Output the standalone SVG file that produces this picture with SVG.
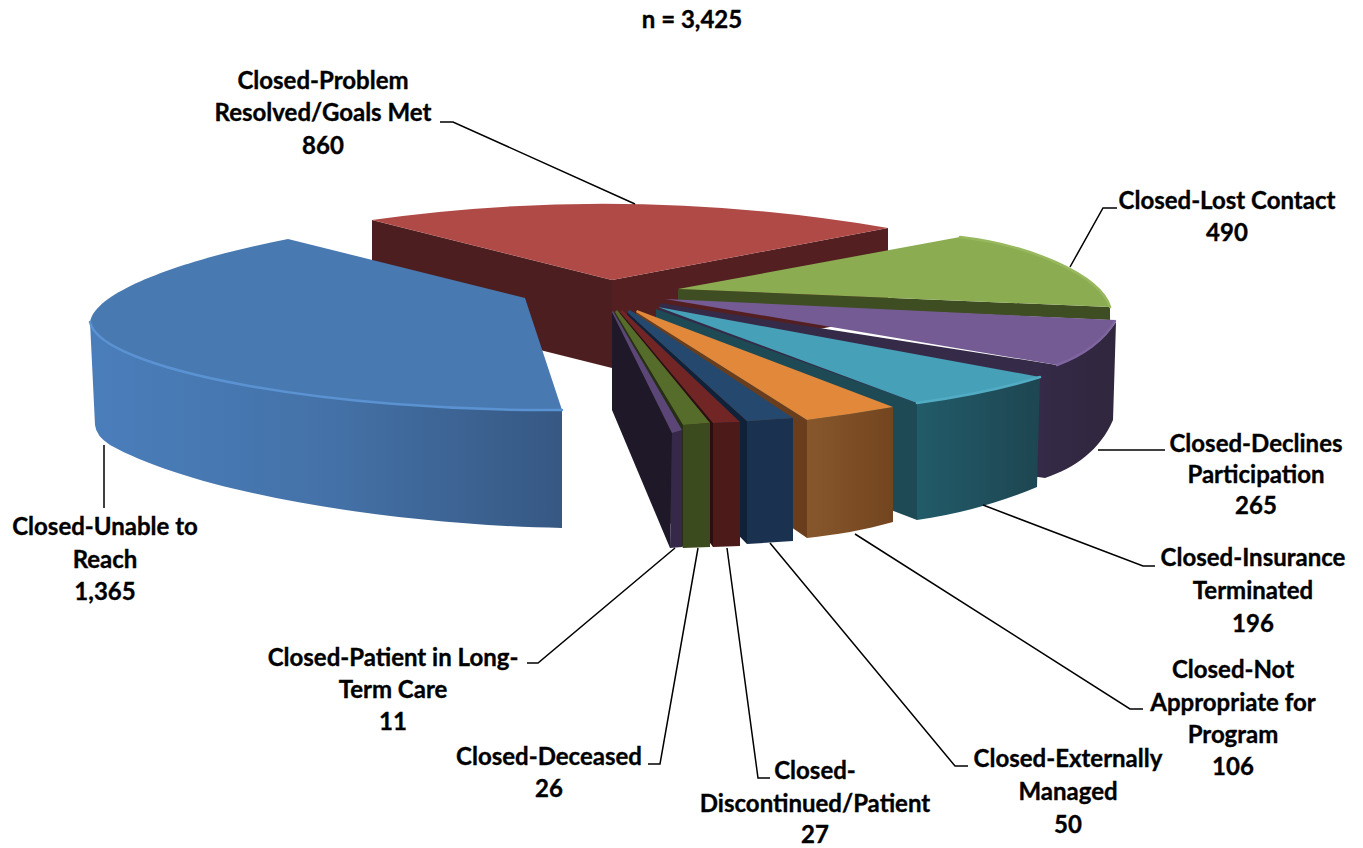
<svg xmlns="http://www.w3.org/2000/svg" width="1363" height="848" viewBox="0 0 1363 848">
  <defs>
    <style>
      .lbl { font-family: Lato, "Open Sans", "DejaVu Sans", sans-serif; font-weight: 700; font-size: 24px; fill: #000; stroke: #000; stroke-width: 0.35; text-anchor: middle; }
      .lead { fill: none; stroke: #000; stroke-width: 1.5; }
      .rim { fill: none; stroke-width: 2.5; stroke-linecap: round; }
    </style>
    <linearGradient id="gBlueSide" x1="90" y1="0" x2="562" y2="0" gradientUnits="userSpaceOnUse">
      <stop offset="0" stop-color="#4a7ebb"/>
      <stop offset="0.5" stop-color="#4472a8"/>
      <stop offset="1" stop-color="#365883"/>
    </linearGradient>
    <linearGradient id="gOrangeSide" x1="807" y1="0" x2="893" y2="0" gradientUnits="userSpaceOnUse">
      <stop offset="0" stop-color="#87572c"/>
      <stop offset="1" stop-color="#73451f"/>
    </linearGradient>
    <linearGradient id="gTealSide" x1="917" y1="0" x2="1040" y2="0" gradientUnits="userSpaceOnUse">
      <stop offset="0" stop-color="#225b69"/>
      <stop offset="1" stop-color="#1d4651"/>
    </linearGradient>
    <linearGradient id="gPurpleSide" x1="1040" y1="0" x2="1116" y2="0" gradientUnits="userSpaceOnUse">
      <stop offset="0" stop-color="#352a47"/>
      <stop offset="1" stop-color="#30263d"/>
    </linearGradient>
  </defs>

  <rect width="1363" height="848" fill="#ffffff"/>

  <text class="lbl" x="692" y="28">n = 3,425</text>

  <!-- Closed-Problem Resolved/Goals Met (back slice) -->
  <g id="slice-resolved">
    <polygon points="372,220 612,280 612,368 372,308" fill="#4d1e1f"/>
    <polygon points="612,280 888,228 888,316 612,368" fill="#531f21"/>
    <path d="M372,220 Q628,184 888,228 L612,280 Z" fill="#b04a47"/>
  </g>

  <!-- Closed-Lost Contact -->
  <g id="slice-lost-contact">
    <polygon points="678,289 1110,307 1110,320 678,301" fill="#3f4d22"/>
    <path d="M678,289 L960,237 C1030,245 1100,275 1110,307 Z" fill="#8cac52"/>
    <path class="rim" d="M960,237 C1030,245 1100,275 1110,307" stroke="#98b85e"/>
  </g>

  <!-- Closed-Declines Participation -->
  <g id="slice-declines">
    <path d="M660,303 L1057,365 C1080,355 1105,340 1116,322 L1113,420 C1100,450 1075,468 1045,478 L660,420 Z" fill="url(#gPurpleSide)"/>
    <path d="M665,299 L1115,320 C1105,340 1082,356 1057,365 Z" fill="#745b94"/>
    <path class="rim" d="M1115,321 C1105,340 1082,356 1057,365" stroke="#7f66a0"/>
  </g>

  <!-- Closed-Insurance Terminated -->
  <g id="slice-insurance">
    <polygon points="656,309 917,403 917,520 656,420" fill="#1e4a55"/>
    <path d="M917,403 C960,397 1005,388 1040,377 L1037,487 C1000,503 955,515 917,520 Z" fill="url(#gTealSide)"/>
    <path d="M658,307 L1040,377 C1005,388 960,397 917,403 Z" fill="#45a0b8"/>
    <path class="rim" d="M1040,377 C1005,388 960,397 917,403" stroke="#52adc4"/>
  </g>

  <!-- Closed-Not Appropriate for Program -->
  <g id="slice-not-appropriate">
    <polygon points="636,312 807,420 807,538 636,420" fill="#6a3e1c"/>
    <path d="M807,420 C835,416 865,412 893,407 L893,522 C865,530 835,535 807,538 Z" fill="url(#gOrangeSide)"/>
    <path d="M637,310 L893,407 C865,412 835,416 807,420 L636,312 Z" fill="#e1883b"/>
  </g>

  <!-- Closed-Externally Managed -->
  <g id="slice-externally">
    <polygon points="627,312 747,421 747,544 627,420" fill="#10213a"/>
    <polygon points="747,421 793,418 793,541 747,544" fill="#1b3150"/>
    <polygon points="630,310 793,418 747,421 627,312" fill="#25486f"/>
  </g>

  <!-- Closed-Discontinued/Patient -->
  <g id="slice-discontinued">
    <polygon points="620,312 713,423 713,547 620,420" fill="#2d0e0f"/>
    <polygon points="713,423 740,422 740,546 713,547" fill="#4d1a1a"/>
    <polygon points="622,310 740,422 713,423 620,312" fill="#712525"/>
  </g>

  <!-- Closed-Deceased -->
  <g id="slice-deceased">
    <polygon points="615,312 683,425 683,548 615,416" fill="#252f15"/>
    <polygon points="683,425 710,423 710,547 683,548" fill="#3c4b1e"/>
    <polygon points="617,310 710,423 683,425 615,312" fill="#566c2a"/>
  </g>

  <!-- Closed-Patient in Long-Term Care -->
  <g id="slice-long-term-care">
    <polygon points="612,312 672,433 670,548 612,410" fill="#1f1829"/>
    <polygon points="672,433 682,430 682,547 670,548" fill="#352849"/>
    <polygon points="613,311 682,430 672,433 612,312" fill="#5c4678"/>
  </g>

  <!-- Closed-Unable to Reach -->
  <g id="slice-unable">
    <path d="M90,322 C100,370 330,412 562,410 L562,528 C400,525 200,495 110,445 Q96,436 95,425 Z" fill="url(#gBlueSide)"/>
    <path d="M525,298 L288,239 C190,258 95,290 90,322 C100,370 330,412 562,410 Z" fill="#4879b1"/>
    <path class="rim" d="M90,322 C100,370 330,412 562,410" stroke="#5a92d2"/>
  </g>

  <!-- leader lines -->
  <g id="connectors">
    <polyline class="lead" points="440,122 453,122 635,204"/>
    <polyline class="lead" points="1117,208 1103,208 1070,267"/>
    <polyline class="lead" points="1098,450 1165,450"/>
    <polyline class="lead" points="983,505 1143,566 1155,566"/>
    <polyline class="lead" points="855,534 1130,709 1143,709"/>
    <polyline class="lead" points="770,543 955,766 968,766"/>
    <polyline class="lead" points="727,548 758,778 770,778"/>
    <polyline class="lead" points="698,548 660,764 648,764"/>
    <polyline class="lead" points="675,548 538,663 527,663"/>
    <polyline class="lead" points="104,445 104,508"/>
  </g>

  <!-- labels -->
  <g id="label-resolved">
    <text class="lbl" x="323" y="89">Closed-Problem</text>
    <text class="lbl" x="323" y="121">Resolved/Goals Met</text>
    <text class="lbl" x="323" y="154">860</text>
  </g>
  <g id="label-lost-contact">
    <text class="lbl" x="1227" y="209">Closed-Lost Contact</text>
    <text class="lbl" x="1227" y="241">490</text>
  </g>
  <g id="label-declines">
    <text class="lbl" x="1256" y="452">Closed-Declines</text>
    <text class="lbl" x="1256" y="483">Participation</text>
    <text class="lbl" x="1256" y="514">265</text>
  </g>
  <g id="label-insurance">
    <text class="lbl" x="1253" y="566">Closed-Insurance</text>
    <text class="lbl" x="1253" y="599">Terminated</text>
    <text class="lbl" x="1253" y="632">196</text>
  </g>
  <g id="label-not-appropriate">
    <text class="lbl" x="1233" y="678">Closed-Not</text>
    <text class="lbl" x="1233" y="711">Appropriate for</text>
    <text class="lbl" x="1233" y="743">Program</text>
    <text class="lbl" x="1233" y="775">106</text>
  </g>
  <g id="label-externally">
    <text class="lbl" x="1068" y="767">Closed-Externally</text>
    <text class="lbl" x="1068" y="800">Managed</text>
    <text class="lbl" x="1068" y="833">50</text>
  </g>
  <g id="label-discontinued">
    <text class="lbl" x="815" y="779">Closed-</text>
    <text class="lbl" x="815" y="812">Discontinued/Patient</text>
    <text class="lbl" x="815" y="843">27</text>
  </g>
  <g id="label-deceased">
    <text class="lbl" x="549" y="765">Closed-Deceased</text>
    <text class="lbl" x="549" y="797">26</text>
  </g>
  <g id="label-long-term-care">
    <text class="lbl" x="393" y="666">Closed-Patient in Long-</text>
    <text class="lbl" x="393" y="698">Term Care</text>
    <text class="lbl" x="393" y="730">11</text>
  </g>
  <g id="label-unable">
    <text class="lbl" x="105" y="535">Closed-Unable to</text>
    <text class="lbl" x="105" y="568">Reach</text>
    <text class="lbl" x="105" y="600">1,365</text>
  </g>
</svg>
